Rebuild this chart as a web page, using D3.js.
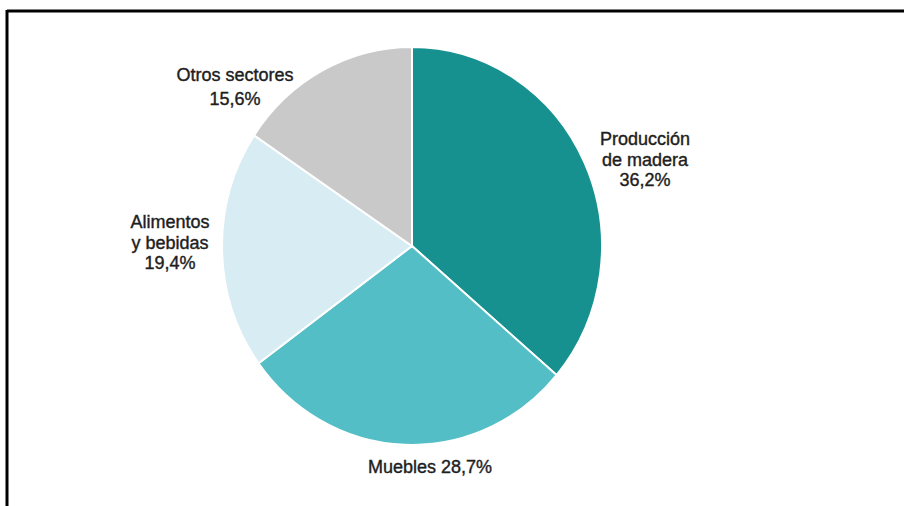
<!DOCTYPE html>
<html>
<head>
<meta charset="utf-8">
<script src="https://cdn.jsdelivr.net/npm/d3@7/dist/d3.min.js"></script>
<style>
  html, body { margin: 0; padding: 0; background: #fff; }
  svg { display: block; }
  text { font-family: "Liberation Sans", Arial, sans-serif; fill: #1e1e1e; stroke: #1e1e1e; stroke-width: 0.4px; }
</style>
</head>
<body>
<svg id="chart" width="904" height="506"></svg>
<script>
// Sector shares (%)
const sectors = ["Producción de madera", "Muebles", "Alimentos y bebidas", "Otros sectores"];
const shares = [36.2, 28.7, 19.4, 15.6];
const colors = ["#17918f", "#53bec6", "#d8edf3", "#c9c9c9"];
// Label lines for each slice; the value line is formatted from shares
const labelLines = [["Producción", "de madera"], [], ["Alimentos", "y bebidas"], ["Otros sectores"]];

const W = 904, H = 506;
const cx = 412, cy = 246, rx = 190, ry = 199;

const svg = d3.select("#chart");

// frame lines (top and left)
svg.append("line").attr("x1", 7).attr("x2", W).attr("y1", 11).attr("y2", 11)
  .attr("stroke", "#000").attr("stroke-width", 3);
svg.append("line").attr("x1", 7).attr("x2", 7).attr("y1", 10).attr("y2", H)
  .attr("stroke", "#000").attr("stroke-width", 3);

const data = sectors.map((s, i) => ({ name: s, value: shares[i], color: colors[i], lines: labelLines[i] }));

const pie = d3.pie().value(d => d.value).sort(null);
const arc = d3.arc().innerRadius(0).outerRadius(ry);

const g = svg.append("g")
  .attr("transform", `translate(${cx},${cy}) scale(${rx / ry},1)`);

g.selectAll("path")
  .data(pie(data))
  .join("path")
  .attr("d", arc)
  .attr("fill", d => d.data.color)
  .attr("stroke", "#fff")
  .attr("stroke-width", 2)
  .attr("vector-effect", "non-scaling-stroke");

// label placement: centre x and first baseline for each slice label
const fmt = v => d3.format(".1f")(v).replace(".", ",") + "%";
const labelPos = [
  { x: 645, y: 145 },
  { x: 430, y: 473 },
  { x: 170, y: 228 },
  { x: 235, y: 81 }
];
const lineH = 20.5;

data.forEach((d, i) => {
  const p = labelPos[i];
  const t = svg.append("text")
    .attr("text-anchor", "middle")
    .attr("font-size", 18);
  if (d.lines.length === 0) {
    t.append("tspan").attr("x", p.x).attr("y", p.y).text(d.name + " " + fmt(d.value));
  } else {
    const all = d.lines.concat([fmt(d.value)]);
    all.forEach((ln, k) => {
      t.append("tspan").attr("x", p.x).attr("y", p.y + k * (i === 3 ? 24 : lineH)).text(ln);
    });
  }
});
</script>
</body>
</html>
